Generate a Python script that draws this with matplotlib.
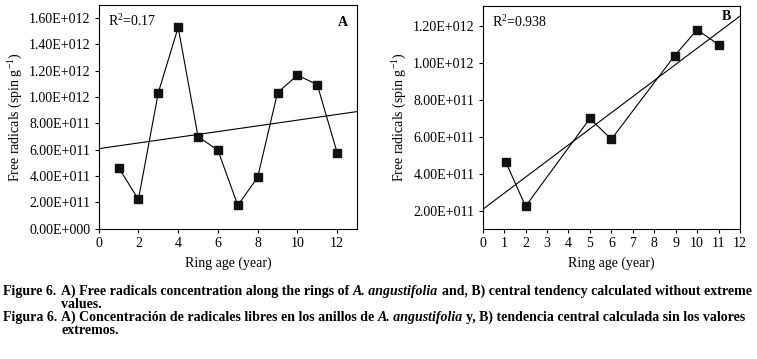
import numpy as np
import matplotlib
matplotlib.use("Agg")
import matplotlib.pyplot as plt

plt.rcParams['font.family'] = ['Liberation Serif', 'DejaVu Serif']
plt.rcParams['mathtext.fontset'] = 'custom'
plt.rcParams['mathtext.rm'] = 'Liberation Serif'
plt.rcParams['mathtext.it'] = 'Liberation Serif:italic'
plt.rcParams['mathtext.bf'] = 'Liberation Serif:bold'

# ---- data ----
age_a = [1, 2, 3, 4, 5, 6, 7, 8, 9, 10, 11, 12]
rad_a = [4.64e11, 2.23e11, 1.034e12, 1.53e12, 7.00e11, 5.96e11, 1.78e11, 3.90e11,
         1.034e12, 1.166e12, 1.095e12, 5.78e11]
age_b = [1.08, 2, 5, 6, 8.95, 10, 11]
rad_b = [4.64e11, 2.27e11, 7.00e11, 5.88e11, 1.038e12, 1.178e12, 1.098e12]

yticks_a = [0, 2e11, 4e11, 6e11, 8e11, 1e12, 1.2e12, 1.4e12, 1.6e12]
yticklabels_a = ['0.00E+000', '2.00E+011', '4.00E+011', '6.00E+011', '8.00E+011',
                 '1.00E+012', '1.20E+012', '1.40E+012', '1.60E+012']
xticks_a = [0, 2, 4, 6, 8, 10, 12]
yticks_b = [2e11, 4e11, 6e11, 8e11, 1e12, 1.2e12]
yticklabels_b = ['2.00E+011', '4.00E+011', '6.00E+011', '8.00E+011', '1.00E+012', '1.20E+012']
xticks_b = list(range(0, 13))

r2_a = 'R$^2$=0.17'
r2_b = 'R$^2$=0.938'

caption_en = [("A) Free radicals concentration along the rings of", 'normal'),
              ("A. angustifolia", 'italic'),
              ("and, B) central tendency calculated without extreme", 'normal')]
caption_en2 = "values."
caption_es = [("A) Concentración de radicales libres en los anillos de", 'normal'),
              ("A. angustifolia", 'italic'),
              ("y, B) tendencia central calculada sin los valores", 'normal')]
caption_es2 = "extremos."

W, H = 757, 359
fig = plt.figure(figsize=(W / 100, H / 100), dpi=100)

def ax_rect(l, t, r, b):
    return [l / W, 1 - b / H, (r - l) / W, (b - t) / H]

axA = fig.add_axes(ax_rect(98.7, 5, 357, 228.7))
axB = fig.add_axes(ax_rect(482.7, 6, 740, 228.7))

tick_fs = 10
lab_fs = 10

def style(ax):
    for s in ax.spines.values():
        s.set_linewidth(0.8)
        s.set_color('black')
    ax.tick_params(direction='out', length=3, width=0.8, labelsize=tick_fs, pad=3, colors='black')

# Panel A
axA.plot(age_a, rad_a, color='black', lw=0.8, marker='s', ms=5.2, mfc='#111111', mec='#111111')
xa = np.array([0, 13])
ca = np.polyfit(age_a, rad_a, 1)
axA.plot(xa, np.polyval(ca, xa), color='black', lw=0.8)
axA.set_xlim(0, 13)
axA.set_ylim(0, 1.7e12)
axA.set_xticks(xticks_a)
axA.set_yticks(yticks_a)
axA.set_yticklabels(yticklabels_a)
style(axA)
axA.set_xlabel('Ring age (year)', fontsize=lab_fs, labelpad=5)
axA.set_ylabel('Free radicals (spin g$^{-1}$)', fontsize=lab_fs, labelpad=3)
axA.text(0.035, 0.93, r2_a, transform=axA.transAxes, fontsize=lab_fs, va='center', ha='left')
axA.text(0.965, 0.92, 'A', transform=axA.transAxes, fontsize=lab_fs, fontweight='bold', va='center', ha='right')

# Panel B
axB.plot(age_b, rad_b, color='black', lw=0.8, marker='s', ms=5.2, mfc='#111111', mec='#111111')
xb = np.array([0, 12])
cb = np.polyfit(age_b, rad_b, 1)
axB.plot(xb, np.polyval(cb, xb), color='black', lw=0.8)
axB.set_xlim(0, 12)
axB.set_ylim(1.06e11, 1.306e12)
axB.set_xticks(xticks_b)
axB.set_yticks(yticks_b)
axB.set_yticklabels(yticklabels_b)
style(axB)
axB.set_xlabel('Ring age (year)', fontsize=lab_fs, labelpad=5)
axB.set_ylabel('Free radicals (spin g$^{-1}$)', fontsize=lab_fs, labelpad=3)
axB.text(0.035, 0.93, r2_b, transform=axB.transAxes, fontsize=lab_fs, va='center', ha='left')
axB.text(0.965, 0.955, 'B', transform=axB.transAxes, fontsize=lab_fs, fontweight='bold', va='center', ha='right')

# Caption
cap_fs = 10
renderer = fig.canvas.get_renderer()

def twidth(s, style='normal'):
    t = fig.text(0, 0, s, fontsize=cap_fs, fontweight='bold', fontstyle=style)
    w = t.get_window_extent(renderer).width
    t.remove()
    return w

space_w = twidth('a a') - twidth('aa')

def cap(x, ybase, s, style='normal'):
    t = fig.text(x / W, 1 - ybase / H, s, fontsize=cap_fs, fontweight='bold',
                 fontstyle=style, va='baseline', ha='left')
    return t.get_window_extent(renderer).width

def cap_line(x, ybase, parts):
    for i, (s, st) in enumerate(parts):
        if i > 0:
            x += space_w
        x += cap(x, ybase, s, st)

indent = 61
cap(3, 295, 'Figure 6.')
cap_line(indent, 295, caption_en)
cap(indent, 308, caption_en2)
cap(3, 321, 'Figura 6.')
cap_line(indent, 321, caption_es)
cap(indent, 334, caption_es2)

fig.savefig('out.png', dpi=100, facecolor='white')
